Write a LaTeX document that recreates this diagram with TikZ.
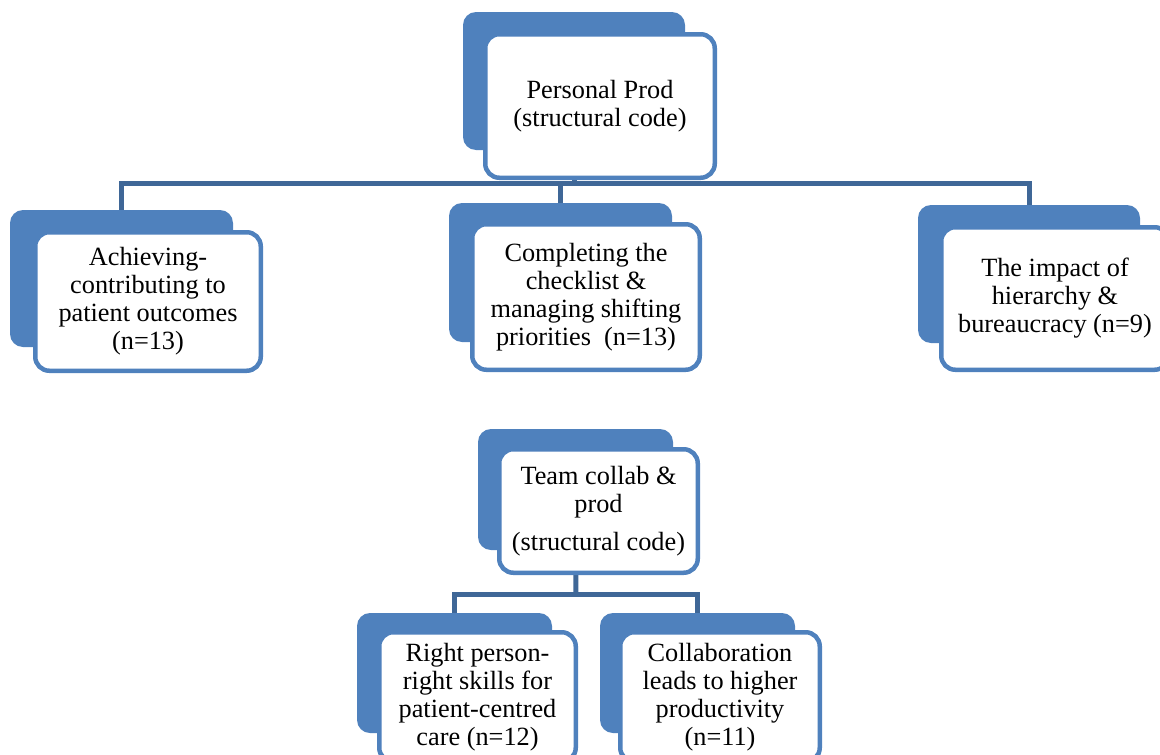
\documentclass[tikz,border=0pt]{standalone}
\usepackage{fontspec}
\setmainfont{Liberation Serif}
\usetikzlibrary{backgrounds}
\definecolor{accent}{HTML}{4F81BD}
\definecolor{linkblue}{HTML}{3F6797}
\begin{document}
\begin{tikzpicture}[x=1pt,y=-1pt,
  backbox/.style={fill=accent,draw=none,rounded corners=13pt,inner sep=0pt},
  frontbox/.style={fill=white,draw=accent,line width=4.5pt,rounded corners=14pt,
    inner sep=0pt,align=center,font=\fontsize{26.3}{28}\selectfont},
  conn/.style={draw=linkblue,line width=5pt}]
\useasboundingbox (0,0) rectangle (1160,755);

% rear plates
\node[backbox,minimum width=222pt,minimum height=138pt] (pb) at (574,81) {};
\node[backbox,minimum width=223pt,minimum height=137pt] (ab) at (121.5,278.5) {};
\node[backbox,minimum width=223pt,minimum height=139pt] (cb) at (560.5,272.5) {};
\node[backbox,minimum width=222pt,minimum height=138pt] (ib) at (1029,274) {};
\node[backbox,minimum width=195pt,minimum height=121pt] (tb) at (575.5,489.5) {};
\node[backbox,minimum width=195pt,minimum height=120pt] (rb) at (454.5,673) {};
\node[backbox,minimum width=195pt,minimum height=120pt] (lb) at (697.5,673) {};

% connectors, kept behind the plates
\coordinate (bus1) at (574,183);
\coordinate (bus2) at (576,594);
\begin{pgfonlayer}{background}
\draw[conn] (pb.south) -- (bus1);
\draw[conn,line cap=rect] (bus1) -| (ab.north);
\draw[conn,line cap=rect] (bus1) -| (ib.north);
\draw[conn] (bus1) -| (cb.north);
\draw[conn] (tb.south) -- (bus2);
\draw[conn,line cap=rect] (bus2) -| (rb.north);
\draw[conn,line cap=rect] (bus2) -| (lb.north);
\end{pgfonlayer}

% front cards with text
\node[frontbox,minimum width=229.5pt,minimum height=143.5pt] (pf) at (600,106)
  {Personal Prod\\(structural code)};
\node[frontbox,minimum width=225.5pt,minimum height=138.5pt] (af) at (148,301.5)
  {Achieving-\\contributing to\\patient outcomes\\(n=13)};
\node[frontbox,minimum width=227.5pt,minimum height=145.5pt] (cf) at (586,297)
  {Completing the\\checklist \&\\managing shifting\\priorities\ \ (n=13)};
\node[frontbox,minimum width=227.5pt,minimum height=142.5pt] (if) at (1055,298.5)
  {The impact of\\hierarchy \&\\bureaucracy (n=9)};
\node[frontbox,minimum width=198.5pt,minimum height=123.5pt] (tf) at (598.5,511)
  {Team collab \&\\prod\\[10pt](structural code)};
\node[frontbox,minimum width=196.5pt,minimum height=129.5pt] (rf) at (477.5,697)
  {Right person-\\right skills for\\patient-centred\\care (n=12)};
\node[frontbox,minimum width=199.5pt,minimum height=129.5pt] (lf) at (720,697)
  {Collaboration\\leads to higher\\productivity\\(n=11)};
\end{tikzpicture}
\end{document}
